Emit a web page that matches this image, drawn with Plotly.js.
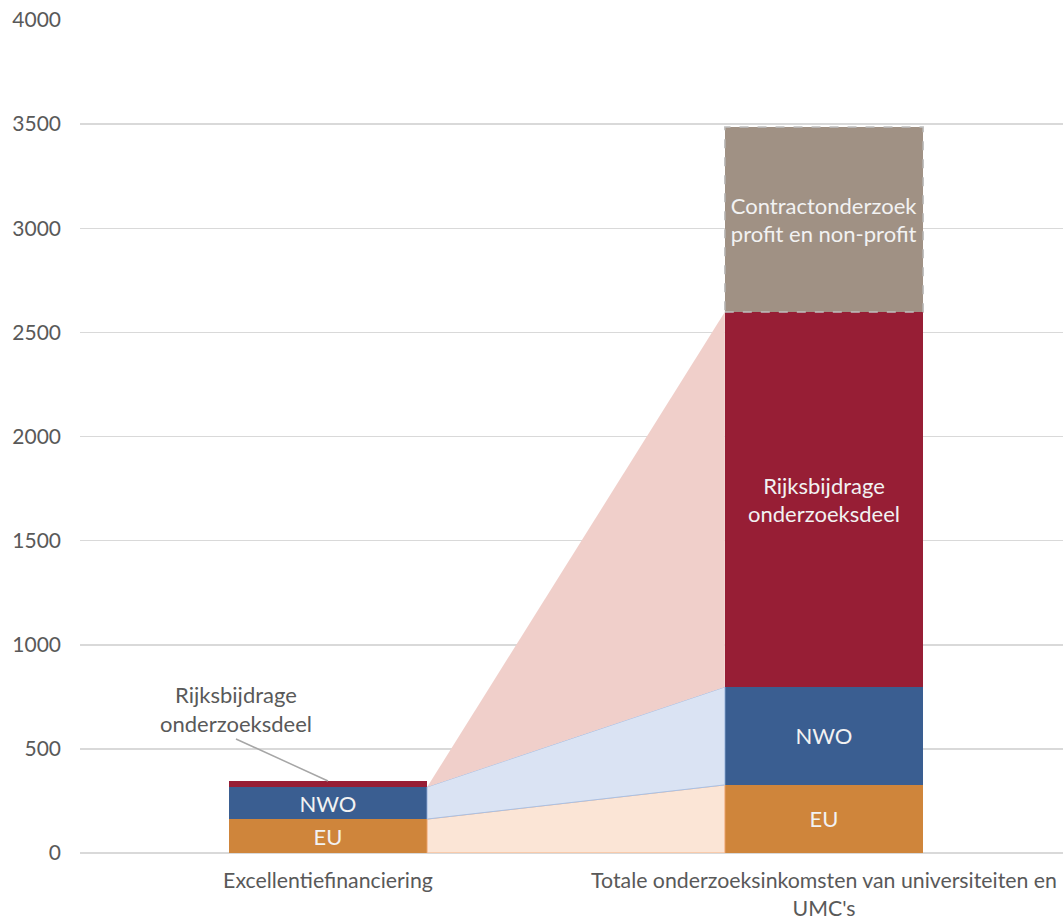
<!DOCTYPE html>
<html>
<head>
<meta charset="utf-8">
<script src="https://cdn.plot.ly/plotly-3.0.1.min.js"></script>
<style>
html,body{margin:0;padding:0;background:#fff;overflow:hidden;}
#chart{width:1063px;height:923px;}
</style>
</head>
<body>
<div id="chart"></div>
<script>
// Data
const categories = ["Excellentiefinanciering", "Totale onderzoeksinkomsten van universiteiten en<br>UMC's"];
const euValues = [163, 327];
const nwoValues = [154, 470];
const rijksValues = [29, 1801];
const contractValues = [0, 888];
const seriesNames = ["EU", "NWO", "Rijksbijdrage onderzoeksdeel", "Contractonderzoek profit en non-profit"];
const euLabels = ["EU", "EU"];
const nwoLabels = ["NWO", "NWO"];
const rijksLabels = ["", "Rijksbijdrage<br>onderzoeksdeel"];
const contractLabels = ["", "Contractonderzoek<br>profit en non-profit"];
const yTicks = [0, 500, 1000, 1500, 2000, 2500, 3000, 3500, 4000];

const xpos = [0, 1];
const barW = 0.4;
const fontFam = "Lato, 'Open Sans', sans-serif";
const labelColor = "#595959";

const colEU = "#CF853B", colNWO = "#3A5E91", colRijks = "#971E35", colContract = "#A09184";

// cumulative levels
const lvl0 = [0, 0];
const lvl1 = euValues.map((v, i) => v);
const lvl2 = lvl1.map((v, i) => v + nwoValues[i]);
const lvl3 = lvl2.map((v, i) => v + rijksValues[i]);
const lvl4 = lvl3.map((v, i) => v + contractValues[i]);

const xl = xpos[0] + barW / 2, xr = xpos[1] - barW / 2;
function band(lo, hi, fill, line) {
  return {
    type: "scatter", mode: "lines", hoverinfo: "skip", showlegend: false,
    x: [xl, xr, xr, xl, xl],
    y: [lo[0], lo[1], hi[1], hi[0], lo[0]],
    fill: "toself", fillcolor: fill,
    line: {color: line, width: 1}
  };
}

function barTrace(vals, labels, color, name) {
  return {
    type: "bar", x: xpos, y: vals, width: barW, name: name,
    marker: {color: color, line: {width: 0}},
    text: labels, textposition: "inside", insidetextanchor: "middle",
    textangle: 0, constraintext: "none",
    textfont: {family: fontFam, size: 22, color: "#F2F2F2"},
    hoverinfo: "y+name", cliponaxis: false
  };
}

const traces = [
  band(lvl0, lvl1, "#FBE5D6", "#F4B183"),
  band(lvl1, lvl2, "#DAE3F3", "#A9C0E4"),
  {
    type: "scatter", mode: "lines", hoverinfo: "skip", showlegend: false,
    x: [xl, xr, xr, xl],
    y: [lvl2[0], lvl2[1], lvl3[1], lvl2[0]],
    fill: "toself", fillcolor: "#F0CFCA", line: {color: "#F0CFCA", width: 0}
  },
  barTrace(euValues, euLabels, colEU, seriesNames[0]),
  barTrace(nwoValues, nwoLabels, colNWO, seriesNames[1]),
  barTrace(rijksValues, rijksLabels, colRijks, seriesNames[2]),
  barTrace(contractValues, contractLabels, colContract, seriesNames[3])
];

const layout = {
  width: 1063, height: 923,
  margin: {l: 80, r: 0, t: 20, b: 70},
  paper_bgcolor: "#fff", plot_bgcolor: "#fff",
  barmode: "stack",
  showlegend: false,
  font: {family: fontFam, color: labelColor},
  xaxis: {
    type: "linear",
    range: [-0.5, 1.5 - 9 / 496],
    tickvals: xpos, ticktext: categories,
    showgrid: false, zeroline: false, showline: false,
    ticks: "", ticklabelstandoff: 13, ticklabeloverflow: "allow",
    tickfont: {family: fontFam, size: 21.3, color: labelColor},
    automargin: false, fixedrange: true
  },
  yaxis: {
    range: [0, 4000],
    tickvals: yTicks,
    showgrid: true, gridcolor: "#D9D9D9", gridwidth: 1.5,
    zeroline: true, zerolinecolor: "#D9D9D9", zerolinewidth: 2,
    showline: false, ticks: "", ticklabelstandoff: 18,
    tickfont: {family: fontFam, size: 21, color: labelColor},
    automargin: false, fixedrange: true
  },
  shapes: [{
    type: "rect", xref: "x", yref: "y", layer: "above",
    x0: xpos[1] - barW / 2, x1: xpos[1] + barW / 2,
    y0: lvl3[1], y1: lvl4[1],
    line: {color: "#BFBFBF", width: 1.5, dash: "dash"}
  }],
  annotations: [{
    x: xpos[0], y: lvl3[0], xref: "x", yref: "y",
    ax: -92, ay: -42,
    text: "Rijksbijdrage<br>onderzoeksdeel",
    showarrow: true, arrowhead: 0, arrowwidth: 1.5, arrowcolor: "#A6A6A6",
    standoff: 0, startstandoff: 0,
    font: {family: fontFam, size: 22, color: labelColor},
    yanchor: "bottom", yshift: 0
  }]
};

Plotly.newPlot("chart", traces, layout, {displayModeBar: false, staticPlot: true});
</script>
</body>
</html>
